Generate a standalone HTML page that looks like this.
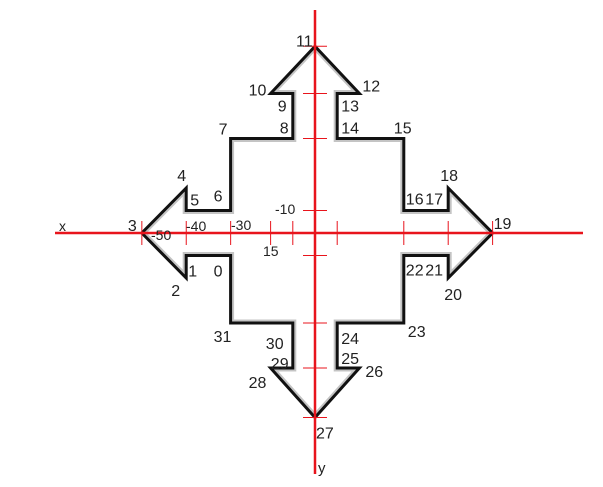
<!DOCTYPE html>
<html><head><meta charset="utf-8"><style>
html,body{margin:0;padding:0;background:#fff;}
svg{display:block;font-family:"Liberation Sans","DejaVu Sans",sans-serif;}
</style></head><body>
<svg id="chart" width="603" height="487" viewBox="0 0 603 487"></svg>
<script>
const pointLabels = ["0","1","2","3","4","5","6","7","8","9","10","11","12","13","14","15","16","17","18","19","20","21","22","23","24","25","26","27","28","29","30","31"];
const pointX = [-19,-29,-29,-39,-29,-29,-19,-19,-5,-5,-10,0,10,5,5,20,20,30,30,40,30,30,20,20,5,5,10,0,-10,-5,-5,-19];
const pointY = [5,5,10,0,-10,-5,-5,-21,-21,-31,-31,-41.5,-31,-31,-21,-21,-5,-5,-10,0,10,5,5,20,20,30,30,41,30,30,20,20];
const xTickVals = [-39,-29,-19,-10,-5,5,20,30,40];
const yTickVals = [-41.5,-31,-21,-5,5,20,30,41];
const xTickLabels = ["-50","-40","-30","15"];
const yTickLabels = ["-10"];

const NS="http://www.w3.org/2000/svg";
const svg=document.getElementById('chart');
const ox=315, oy=233, sx=4.44, sy=4.5;
function X(v){return ox+v*sx;}
function Y(v){return oy+v*sy;}
function mk(tag,attrs,parent){const e=document.createElementNS(NS,tag);for(const k in attrs)e.setAttribute(k,attrs[k]);(parent||svg).appendChild(e);return e;}

const pts=pointX.map((v,i)=>X(v).toFixed(1)+","+Y(pointY[i]).toFixed(1)).join(" ");
const defs=mk('defs',{});
const cp=mk('clipPath',{id:'inside'},defs);
mk('polygon',{points:pts},cp);
const shadow=mk('polygon',{points:pts,fill:'none',stroke:'#c4c4c4','stroke-width':7,'clip-path':'url(#inside)'});


const outline=mk('polygon',{points:pts,fill:'none',stroke:'#111','stroke-width':3,'stroke-linejoin':'miter'});



// axes
const xa=mk('line',{x1:55,y1:oy,x2:583,y2:oy,stroke:'#e8141c','stroke-width':2.5});


const ya=mk('line',{x1:ox,y1:10,x2:ox,y2:474,stroke:'#e8141c','stroke-width':2.5});


xTickVals.forEach(v=>{
  const t=mk('line',{x1:X(v),y1:oy-12,x2:X(v),y2:oy+12,stroke:'#e8141c','stroke-width':1});
  
  
});
yTickVals.forEach(v=>{
  const t=mk('line',{x1:ox-12,y1:Y(v),x2:ox+12,y2:Y(v),stroke:'#e8141c','stroke-width':1});
  
  
});
const xtPos=[[151,240],[186,231],[231,230],[263,256]];
xTickLabels.forEach((s,i)=>{
  const t=mk('text',{x:xtPos[i][0],y:xtPos[i][1],'font-size':14,fill:'#222'});t.textContent=s;
  
  
});
yTickLabels.forEach(s=>{
  const t=mk('text',{x:275,y:214,'font-size':14,fill:'#222'});t.textContent=s;
  
  
});
const xl=mk('text',{x:59,y:231,'font-size':14,fill:'#222'});xl.textContent='x';


const yl=mk('text',{x:318,y:473,'font-size':15,fill:'#222'});yl.textContent='y';



// point label offsets
const off=[[-17,21],[2,21],[-15,18],[-14,-2],[-9,-7],[4,-5],[-17,-9],[-12,-4],[-13,-5],[-15,18],[-22,2],[-19,0],[3,-2],[4,18],[4,-5],[-10,-5],[2,-6],[-23,-6],[-8,-7],[1,-4],[-4,22],[-23,20],[2,20],[4,14],[4,21],[4,-4],[6,9],[1,21],[-22,20],[-22,1],[-27,26],[-17,19]];
pointLabels.forEach((s,i)=>{
  const t=mk('text',{x:X(pointX[i])+off[i][0],y:Y(pointY[i])+off[i][1],'font-size':16,fill:'#222'});t.textContent=s;
  
  
});
</script>
</body></html>
